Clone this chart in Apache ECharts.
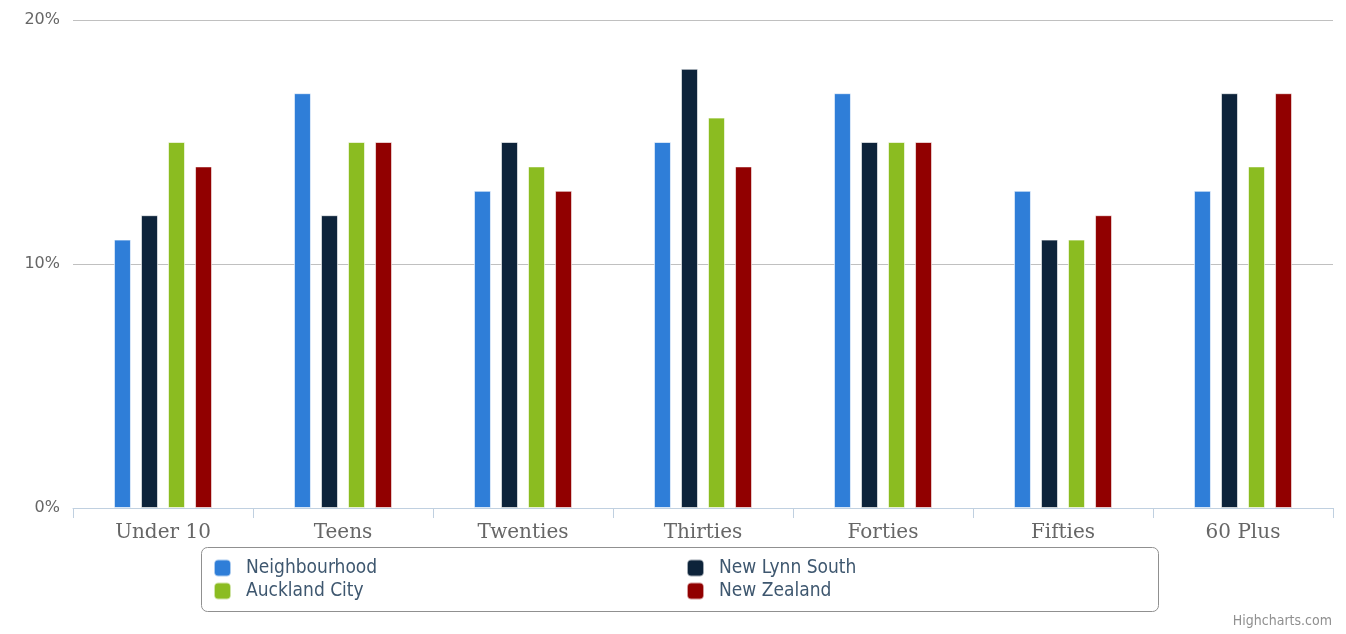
<!DOCTYPE html>
<html><head><meta charset="utf-8">
<script src="https://cdn.jsdelivr.net/npm/echarts@6/dist/echarts.min.js"></script>
<style>html,body{margin:0;padding:0;background:#fff}#c{width:1346px;height:634px}</style>
</head><body><div id="c"></div>
<script>
const categories = ['Under 10','Teens','Twenties','Thirties','Forties','Fifties','60 Plus'];
const seriesNames = ['Neighbourhood','New Lynn South','Auckland City','New Zealand'];
const neighbourhood = [11,17,13,15,17,13,13];
const newLynnSouth = [12,12,15,18,15,11,17];
const aucklandCity = [15,15,14,16,15,11,14];
const newZealand = [14,15,13,14,15,12,17];
const yTicks = [0,10,20];
const colors = ['#2F7ED8','#0D233A','#8BBC21','#910000'];
const values = [neighbourhood,newLynnSouth,aucklandCity,newZealand];

const chart = echarts.init(document.getElementById('c'));
const legendText = {fontFamily:'"DejaVu Sans Condensed","DejaVu Sans",sans-serif',fontSize:19,lineHeight:20,color:'#3E576F',padding:[0,0,0,10]};
chart.setOption({
  animation:false,
  grid:{left:73,right:13,top:20,bottom:126,containLabel:false},
  xAxis:{type:'category',data:categories,
    axisLine:{lineStyle:{color:'#C0D0E0',width:1}},
    axisTick:{show:true,alignWithLabel:false,length:10,inside:false,lineStyle:{color:'#C0D0E0'}},
    axisLabel:{fontFamily:'"DejaVu Serif",serif',fontSize:20,color:'#666666',margin:15}},
  yAxis:{type:'value',min:yTicks[0],max:yTicks[yTicks.length-1],interval:10,
    axisLabel:{formatter:'{value}%',fontFamily:'"DejaVu Sans",sans-serif',fontSize:16,color:'#666666',margin:13,padding:[6,0,0,0]},
    splitLine:{lineStyle:{color:'#C0C0C0',width:1}},
    axisLine:{show:false},axisTick:{show:false}},
  legend:[
    {orient:'vertical',left:213,top:558,padding:0,itemWidth:17,itemHeight:17,itemGap:3,icon:'roundRect',
     textStyle:legendText,data:[seriesNames[0],seriesNames[2]]},
    {orient:'vertical',left:686,top:558,padding:0,itemWidth:17,itemHeight:17,itemGap:3,icon:'roundRect',
     textStyle:legendText,data:[seriesNames[1],seriesNames[3]]}
  ],
  graphic:[
    {type:'rect',left:199,top:545,shape:{width:957,height:64,r:6},style:{fill:'none',stroke:'#909090',lineWidth:1},z:-1},
    {type:'text',right:14,top:614,style:{text:'Highcharts.com',fontFamily:'"DejaVu Sans Condensed","DejaVu Sans",sans-serif',fontSize:14,fill:'#909090'}}
  ],
  series:seriesNames.map((n,i)=>({name:n,type:'bar',data:values[i],barWidth:17,barGap:'59%',
    itemStyle:{color:colors[i],borderColor:'rgba(255,255,255,0.6)',borderWidth:1}}))
});
</script></body></html>
